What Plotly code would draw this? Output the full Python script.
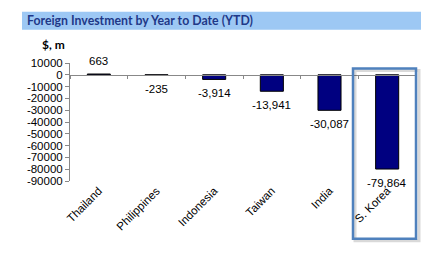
import plotly.graph_objects as go

categories = ["Thailand", "Philippines", "Indonesia", "Taiwan", "India", "S. Korea"]
values = [663, -235, -3914, -13941, -30087, -79864]
y_tick_vals = [10000, 0, -10000, -20000, -30000, -40000, -50000, -60000, -70000, -80000, -90000]
y_tick_text = ["10000", "0", "-10000", "-20000", "-30000", "-40000", "-50000", "-60000", "-70000", "-80000", "-90000"]
title_text = "Foreign Investment by Year to Date (YTD)"
unit_text = "$, m"
highlight_category = "S. Korea"

W, H = 439, 255
ML, MR, MT, MB = 70, 23, 62.5, 74
PW, PH = W - ML - MR, H - MT - MB


def px_x(x):
    return (x - ML) / PW


def px_y(y):
    return (H - MB - y) / PH


ymin, ymax = -90000, 10000
xmin, xmax = -0.5, len(categories) - 0.5

fig = go.Figure()
fig.add_trace(go.Bar(
    x=list(range(len(categories))), y=values,
    marker=dict(color="#000080", line=dict(color="#000000", width=1)),
    width=0.4, hoverinfo="skip",
))

for i, v in enumerate(values):
    fig.add_annotation(
        x=i, y=v, text=f"{v:,}", showarrow=False,
        yshift=13 if v > 0 else -14,
        font=dict(family="Liberation Sans, Arial", size=11.5, color="#000000"),
    )

fig.update_layout(
    width=W, height=H,
    margin=dict(l=ML, r=MR, t=MT, b=MB),
    paper_bgcolor="white", plot_bgcolor="white",
    showlegend=False,
    xaxis=dict(
        range=[xmin, xmax], tickmode="array",
        tickvals=list(range(len(categories))), ticktext=categories,
        tickangle=-45, showline=False, showgrid=False, zeroline=False,
        ticks="", tickfont=dict(family="Liberation Sans, Arial", size=11.5, color="#000000"),
    ),
    xaxis2=dict(
        range=[xmin, xmax], overlaying="x", anchor="free",
        position=(0 - ymin) / (ymax - ymin),
        tickmode="array", tickvals=[i - 0.5 for i in range(len(categories) + 1)],
        showticklabels=False, showline=True, linecolor="#888888", linewidth=1,
        ticks="outside", ticklen=3, tickcolor="#888888", showgrid=False, zeroline=False,
    ),
    yaxis=dict(
        range=[ymin, ymax], tickmode="array", tickvals=y_tick_vals, ticktext=y_tick_text,
        showline=True, linecolor="#888888", linewidth=1, ticks="outside", ticklen=4,
        tickcolor="#888888", showgrid=False, zeroline=False,
        tickfont=dict(family="Liberation Sans, Arial", size=11.5, color="#000000"),
    ),
)

# dummy trace to activate xaxis2
fig.add_trace(go.Scatter(x=[None], y=[None], xaxis="x2", hoverinfo="skip"))

# title bar
fig.add_shape(type="rect", xref="paper", yref="paper",
              x0=px_x(22), x1=px_x(421), y0=px_y(29), y1=px_y(11),
              fillcolor="#9DC8F4", line=dict(width=0), layer="below")
fig.add_annotation(xref="paper", yref="paper", x=px_x(25), y=px_y(20),
                   xanchor="left", yanchor="middle", showarrow=False,
                   text=f"<b>{title_text}</b>",
                   font=dict(family="Lato, Open Sans", size=12.3, color="#1F3888"))
fig.add_annotation(xref="paper", yref="paper", x=px_x(40), y=px_y(44),
                   xanchor="left", yanchor="middle", showarrow=False,
                   text=f"<b>{unit_text}</b>",
                   font=dict(family="Lato, Open Sans", size=12, color="#000000"))

# highlight box around S. Korea
hi = categories.index(highlight_category)
fig.add_shape(type="rect", xref="paper", yref="paper",
              x0=px_x(355), x1=px_x(419), y0=px_y(241), y1=px_y(70),
              line=dict(color="rgba(0,0,0,0.15)", width=3))
fig.add_shape(type="rect", xref="paper", yref="paper",
              x0=px_x(353), x1=px_x(416), y0=px_y(239), y1=px_y(68),
              line=dict(color="#4F81BD", width=2.5))

fig.write_html("out.html")
